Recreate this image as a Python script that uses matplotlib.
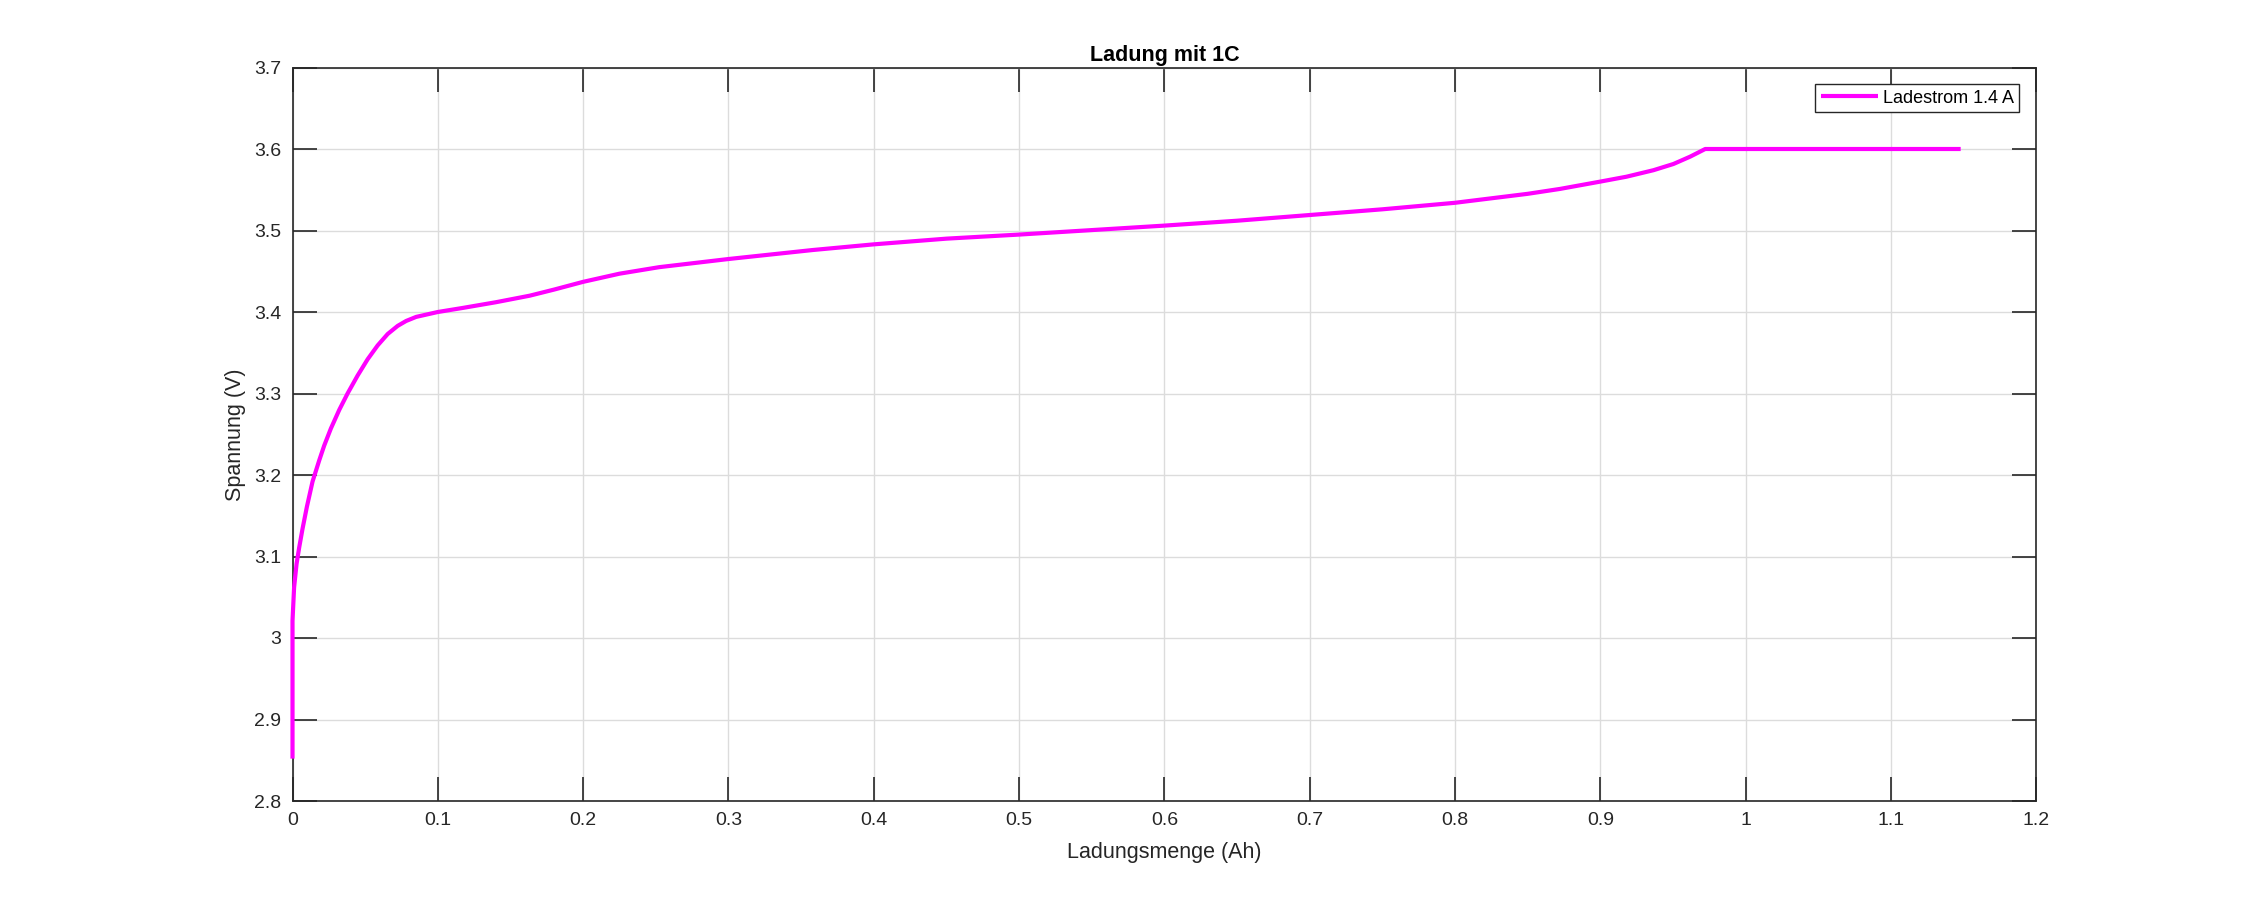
import matplotlib
matplotlib.use("Agg")
import matplotlib.pyplot as plt
from matplotlib.ticker import FuncFormatter

# values
charge_ah = [0.0, 0.0, 0.0011, 0.0028, 0.0046, 0.0069, 0.0099, 0.0138,
             0.0184, 0.0218, 0.0264, 0.0322, 0.0379, 0.0448, 0.0517,
             0.0586, 0.0655, 0.0724, 0.0782, 0.0851, 0.1, 0.1172, 0.140,
             0.1632, 0.18, 0.2, 0.225, 0.2523, 0.3, 0.3577, 0.4, 0.45, 0.5,
             0.55, 0.6, 0.65, 0.7, 0.75, 0.8, 0.85, 0.8722, 0.9, 0.918,
             0.9366, 0.9503, 0.9618, 0.9722, 1.148]
voltage_v = [2.852, 3.021, 3.062, 3.091, 3.111, 3.134, 3.161, 3.192,
             3.218, 3.236, 3.257, 3.280, 3.300, 3.322, 3.342,
             3.359, 3.373, 3.383, 3.389, 3.394, 3.400, 3.405, 3.412,
             3.420, 3.4275, 3.437, 3.447, 3.455, 3.465, 3.476, 3.483, 3.490,
             3.495, 3.5005, 3.506, 3.512, 3.519, 3.526, 3.534, 3.545, 3.551,
             3.560, 3.566, 3.574, 3.5816, 3.5906, 3.600, 3.600]

x_ticks = [0, 0.1, 0.2, 0.3, 0.4, 0.5, 0.6, 0.7, 0.8, 0.9, 1.0, 1.1, 1.2]
y_ticks = [2.8, 2.9, 3.0, 3.1, 3.2, 3.3, 3.4, 3.5, 3.6, 3.7]

title_txt = "Ladung mit 1C"
xlabel_txt = "Ladungsmenge (Ah)"
ylabel_txt = "Spannung (V)"
legend_txt = "Ladestrom 1.4 A"

plt.rcParams['font.family'] = ['Liberation Sans', 'DejaVu Sans']
axcol = '#262626'

fig = plt.figure(figsize=(22.5, 9), dpi=100)
ax = fig.add_axes([0.13, 0.11, 0.775, 0.815])

ax.plot(charge_ah, voltage_v, color='#ff00ff', lw=3, label=legend_txt,
        solid_joinstyle='round', solid_capstyle='butt', zorder=3,
        clip_on=False)

ax.set_xlim(0, 1.2)
ax.set_ylim(2.8, 3.7)
ax.set_xticks(x_ticks)
ax.set_yticks(y_ticks)
fmt = FuncFormatter(lambda v, p: ('%g' % round(v, 4)))
ax.xaxis.set_major_formatter(fmt)
ax.yaxis.set_major_formatter(fmt)

ax.grid(True, color='#dcdcdc', lw=1)
ax.set_axisbelow(True)
for s in ax.spines.values():
    s.set_color(axcol)
    s.set_linewidth(1.2)
    s.set_zorder(2.5)
ax.tick_params(direction='in', length=17, width=1.2, colors=axcol,
               labelsize=14, top=True, right=True, pad=8)

ax.set_title(title_txt, fontsize=15.5, fontweight='bold', color='black', pad=5)
ax.set_xlabel(xlabel_txt, fontsize=15.5, color=axcol, labelpad=9)
ax.set_ylabel(ylabel_txt, fontsize=15.5, color=axcol, labelpad=6)

leg = ax.legend(loc='upper right', bbox_to_anchor=(0.9903, 0.9772),
                borderaxespad=0, fontsize=13, fancybox=False, framealpha=1,
                edgecolor=axcol, handlelength=3.15, borderpad=0.3,
                handletextpad=0.3)
leg.get_frame().set_linewidth(1.0)

fig.savefig("out.png", dpi=100, facecolor='white')
